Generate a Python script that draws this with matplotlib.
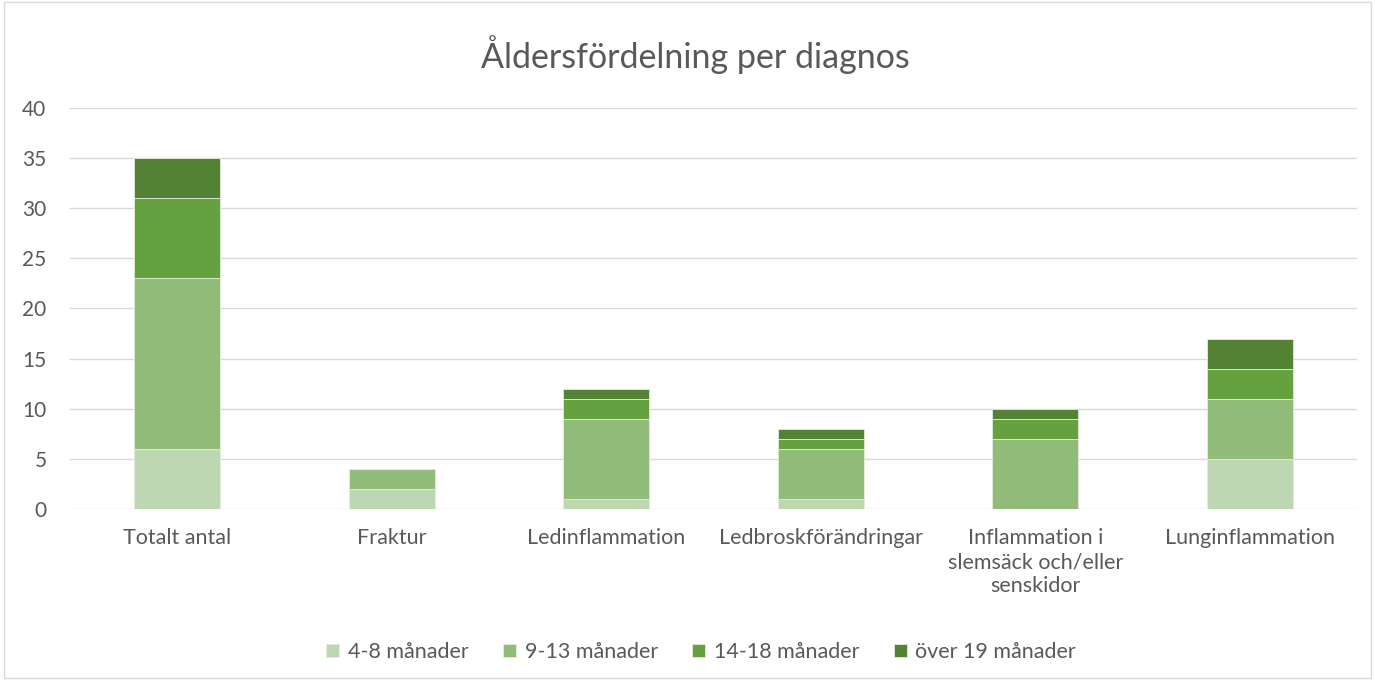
import matplotlib
matplotlib.use('Agg')
import matplotlib.pyplot as plt
import numpy as np

plt.rcParams['font.family'] = ['Lato', 'DejaVu Sans']

categories = ['Totalt antal', 'Fraktur', 'Ledinflammation', 'Ledbroskförändringar',
              'Inflammation i\nslemsäck och/eller\nsenskidor', 'Lunginflammation']
series_names = ['4-8 månader', '9-13 månader', '14-18 månader', 'över 19 månader']
m4_8 = [6, 2, 1, 1, 0, 5]
m9_13 = [17, 2, 8, 5, 7, 6]
m14_18 = [8, 0, 2, 1, 2, 3]
m19 = [4, 0, 1, 1, 1, 3]
colors = ['#BDD7B2', '#91BB79', '#66A140', '#548235']

fig = plt.figure(figsize=(13.75, 6.8), dpi=100)
ax = fig.add_axes([0.051, 0.2515, 0.936, 0.5897])

x = np.arange(len(categories))
bottom = np.zeros(len(categories))
for vals, name, c in zip([m4_8, m9_13, m14_18, m19], series_names, colors):
    ax.bar(x, vals, width=0.4, bottom=bottom, color=c, label=name,
           edgecolor='#E2EEDC', linewidth=0.6, zorder=3)
    bottom += np.array(vals)

ax.set_xlim(-0.5, len(categories) - 0.5)
ax.set_ylim(0, 40)
ax.set_yticks(range(0, 41, 5))
ax.set_xticks(x)
ax.set_xticklabels(categories, linespacing=1.25)
ax.grid(axis='y', color='#D9D9D9', linewidth=1, zorder=0)
for s in ax.spines.values():
    s.set_visible(False)
ax.tick_params(length=0, colors='#595959')
ax.tick_params(axis='x', labelsize=15.5, pad=14)
ax.tick_params(axis='y', labelsize=15, pad=17)

fig.text(0.506, 0.92, 'Åldersfördelning per diagnos', ha='center', va='center',
         fontsize=24.5, color='#595959')

fig.legend(loc='center', bbox_to_anchor=(0.51, 0.041), ncol=4, frameon=False,
           fontsize=15.5, labelcolor='#595959', handlelength=0.6, handleheight=0.6,
           columnspacing=1.6, handletextpad=0.4)

fig.patches.append(plt.Rectangle((0.003, 0.003), 0.994, 0.994, transform=fig.transFigure,
                                 fill=False, edgecolor='#D9D9D9', linewidth=1))

plt.savefig('out.png', dpi=100)
